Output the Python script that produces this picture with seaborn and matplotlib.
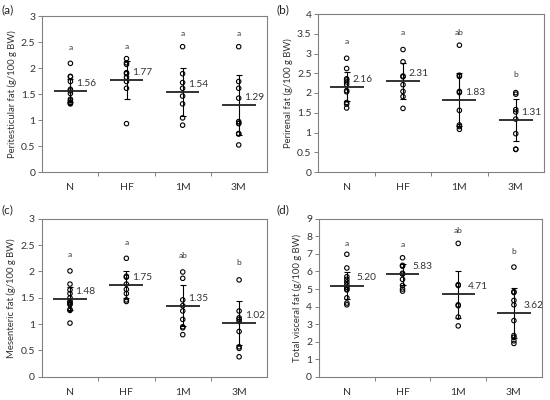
import numpy as np
import pandas as pd
import seaborn as sns
import matplotlib.pyplot as plt
from matplotlib.ticker import MultipleLocator, FuncFormatter

groups = ["N", "HF", "1M", "3M"]

# (a) peritesticular
peri_test = {
    "N": [2.09, 1.84, 1.83, 1.74, 1.59, 1.56, 1.51, 1.40, 1.37, 1.34, 1.32, 1.31],
    "HF": [2.18, 2.10, 2.07, 1.91, 1.89, 1.82, 1.74, 1.61, 0.93],
    "1M": [2.41, 1.89, 1.72, 1.61, 1.46, 1.31, 1.04, 0.90],
    "3M": [2.41, 1.74, 1.61, 1.42, 0.97, 0.94, 0.93, 0.74, 0.73, 0.52],
}
peri_test_mean = [1.56, 1.77, 1.54, 1.29]
peri_test_sd = [0.22, 0.36, 0.46, 0.58]
peri_test_letters = ["a", "a", "a", "a"]
peri_test_letter_y = [2.40, 2.42, 2.66, 2.66]

# (b) perirenal
perirenal = {
    "N": [2.88, 2.62, 2.36, 2.33, 2.28, 2.22, 2.06, 2.03, 1.76, 1.72, 1.62],
    "HF": [3.10, 2.79, 2.43, 2.41, 2.21, 2.04, 1.91, 1.61],
    "1M": [3.21, 2.45, 2.42, 2.04, 2.01, 1.56, 1.19, 1.15, 1.08],
    "3M": [2.01, 1.97, 1.58, 1.52, 1.34, 0.97, 0.58, 0.57],
}
perirenal_mean = [2.16, 2.31, 1.83, 1.31]
perirenal_sd = [0.36, 0.45, 0.67, 0.53]
perirenal_letters = ["a", "a", "ab", "b"]
perirenal_letter_y = [3.30, 3.52, 3.52, 2.47]

# (c) mesenteric
mesenteric = {
    "N": [2.01, 1.76, 1.65, 1.58, 1.50, 1.44, 1.41, 1.39, 1.37, 1.28, 1.26, 1.02],
    "HF": [2.25, 1.91, 1.89, 1.76, 1.66, 1.58, 1.46, 1.43],
    "1M": [1.99, 1.87, 1.46, 1.35, 1.25, 1.09, 0.95, 0.93, 0.80],
    "3M": [1.84, 1.25, 1.12, 1.09, 1.05, 0.86, 0.57, 0.54, 0.38],
}
mesenteric_mean = [1.48, 1.75, 1.35, 1.02]
mesenteric_sd = [0.22, 0.25, 0.39, 0.41]
mesenteric_letters = ["a", "a", "ab", "b"]
mesenteric_letter_y = [2.33, 2.55, 2.30, 2.17]

# (d) total visceral
visceral = {
    "N": [6.98, 6.20, 5.70, 5.55, 5.40, 5.25, 5.10, 5.00, 4.95, 4.50, 4.20, 4.10],
    "HF": [6.78, 6.35, 6.30, 5.90, 5.85, 5.55, 5.20, 5.00, 4.88],
    "1M": [7.60, 5.25, 5.20, 4.10, 4.05, 3.40, 2.90],
    "3M": [6.25, 4.85, 4.80, 4.35, 4.10, 3.20, 2.35, 2.25, 2.05, 1.90],
}
visceral_mean = [5.20, 5.83, 4.71, 3.62]
visceral_sd = [0.75, 0.58, 1.34, 1.43]
visceral_letters = ["a", "a", "ab", "b"]
visceral_letter_y = [7.60, 7.55, 8.35, 7.15]

panels = [
    ("(a)", "Peritesticular fat (g/100 g BW)", peri_test, peri_test_mean, peri_test_sd,
     peri_test_letters, peri_test_letter_y, 3, 0.5, 0.1),
    ("(b)", "Perirenal fat (g/100 g BW)", perirenal, perirenal_mean, perirenal_sd,
     perirenal_letters, perirenal_letter_y, 4, 0.5, 0.1),
    ("(c)", "Mesenteric fat (g/100 g BW)", mesenteric, mesenteric_mean, mesenteric_sd,
     mesenteric_letters, mesenteric_letter_y, 3, 0.5, 0.1),
    ("(d)", "Total visceral fat (g/100 g BW)", visceral, visceral_mean, visceral_sd,
     visceral_letters, visceral_letter_y, 9, 1, 0.18),
]

sns.set_theme(style="white")
plt.rcParams["font.family"] = ["Lato", "DejaVu Sans"]

fig = plt.figure(figsize=(5.5, 4), dpi=100)
rects = [
    [0.077, 0.570, 0.408, 0.390],
    [0.579, 0.570, 0.410, 0.395],
    [0.076, 0.058, 0.410, 0.395],
    [0.580, 0.058, 0.405, 0.395],
]
label_pos = [(0.002, 0.975), (0.502, 0.975), (0.002, 0.475), (0.502, 0.475)]

for (tag, ylab, data, means, sds, letters, letter_y, ymax, step, xoff), rect, lp in zip(panels, rects, label_pos):
    ax = fig.add_axes(rect)
    df = pd.DataFrame([(g, v) for g in groups for v in data[g]], columns=["group", "value"])
    sns.stripplot(data=df, x="group", y="value", order=groups, jitter=False,
                  color="white", edgecolor="black", linewidth=0.8, size=3.2, ax=ax, zorder=3)
    for coll in ax.collections:
        coll.set_facecolor("none")

    pos = np.arange(len(groups))
    ax.errorbar(pos, means, yerr=sds, fmt="none", ecolor="black", elinewidth=0.8,
                capsize=2, capthick=0.8, zorder=2)
    ax.hlines(means, pos - 0.3, pos + 0.3, colors="#222222", linewidth=1.3, zorder=4)
    for i in range(len(groups)):
        ax.text(pos[i] + xoff, means[i] + 0.048 * ymax, f"{means[i]:.2f}",
                fontsize=7.3, va="center", ha="left", color="#333333")
        ax.text(pos[i], letter_y[i], letters[i], fontsize=6, ha="center",
                va="center", color="#333333")

    ax.set_xlim(-0.5, 3.5)
    ax.set_ylim(0, ymax)
    ax.yaxis.set_major_locator(MultipleLocator(step))
    ax.yaxis.set_major_formatter(FuncFormatter(lambda v, p: f"{v:g}"))
    ax.set_xticks(pos)
    ax.set_xticks([0.5, 1.5, 2.5], minor=True)
    ax.tick_params(axis="x", which="major", length=0, labelsize=7.5, pad=8, colors="#333333")
    ax.tick_params(axis="x", which="minor", length=3, width=0.7, color="#808080", direction="out", bottom=True)
    ax.tick_params(axis="y", which="major", length=3, width=0.7, color="#808080", direction="out",
                   left=True, labelsize=7.5, pad=2, labelcolor="#333333")
    ax.set_xlabel("")
    ax.set_ylabel(ylab, fontsize=6.8, labelpad=3, color="#333333")
    for s in ax.spines.values():
        s.set_color("#808080")
        s.set_linewidth(0.8)
    fig.text(lp[0], lp[1], tag, fontsize=8.5, ha="left", va="center", color="#222222")

fig.savefig("out.png", dpi=100)
